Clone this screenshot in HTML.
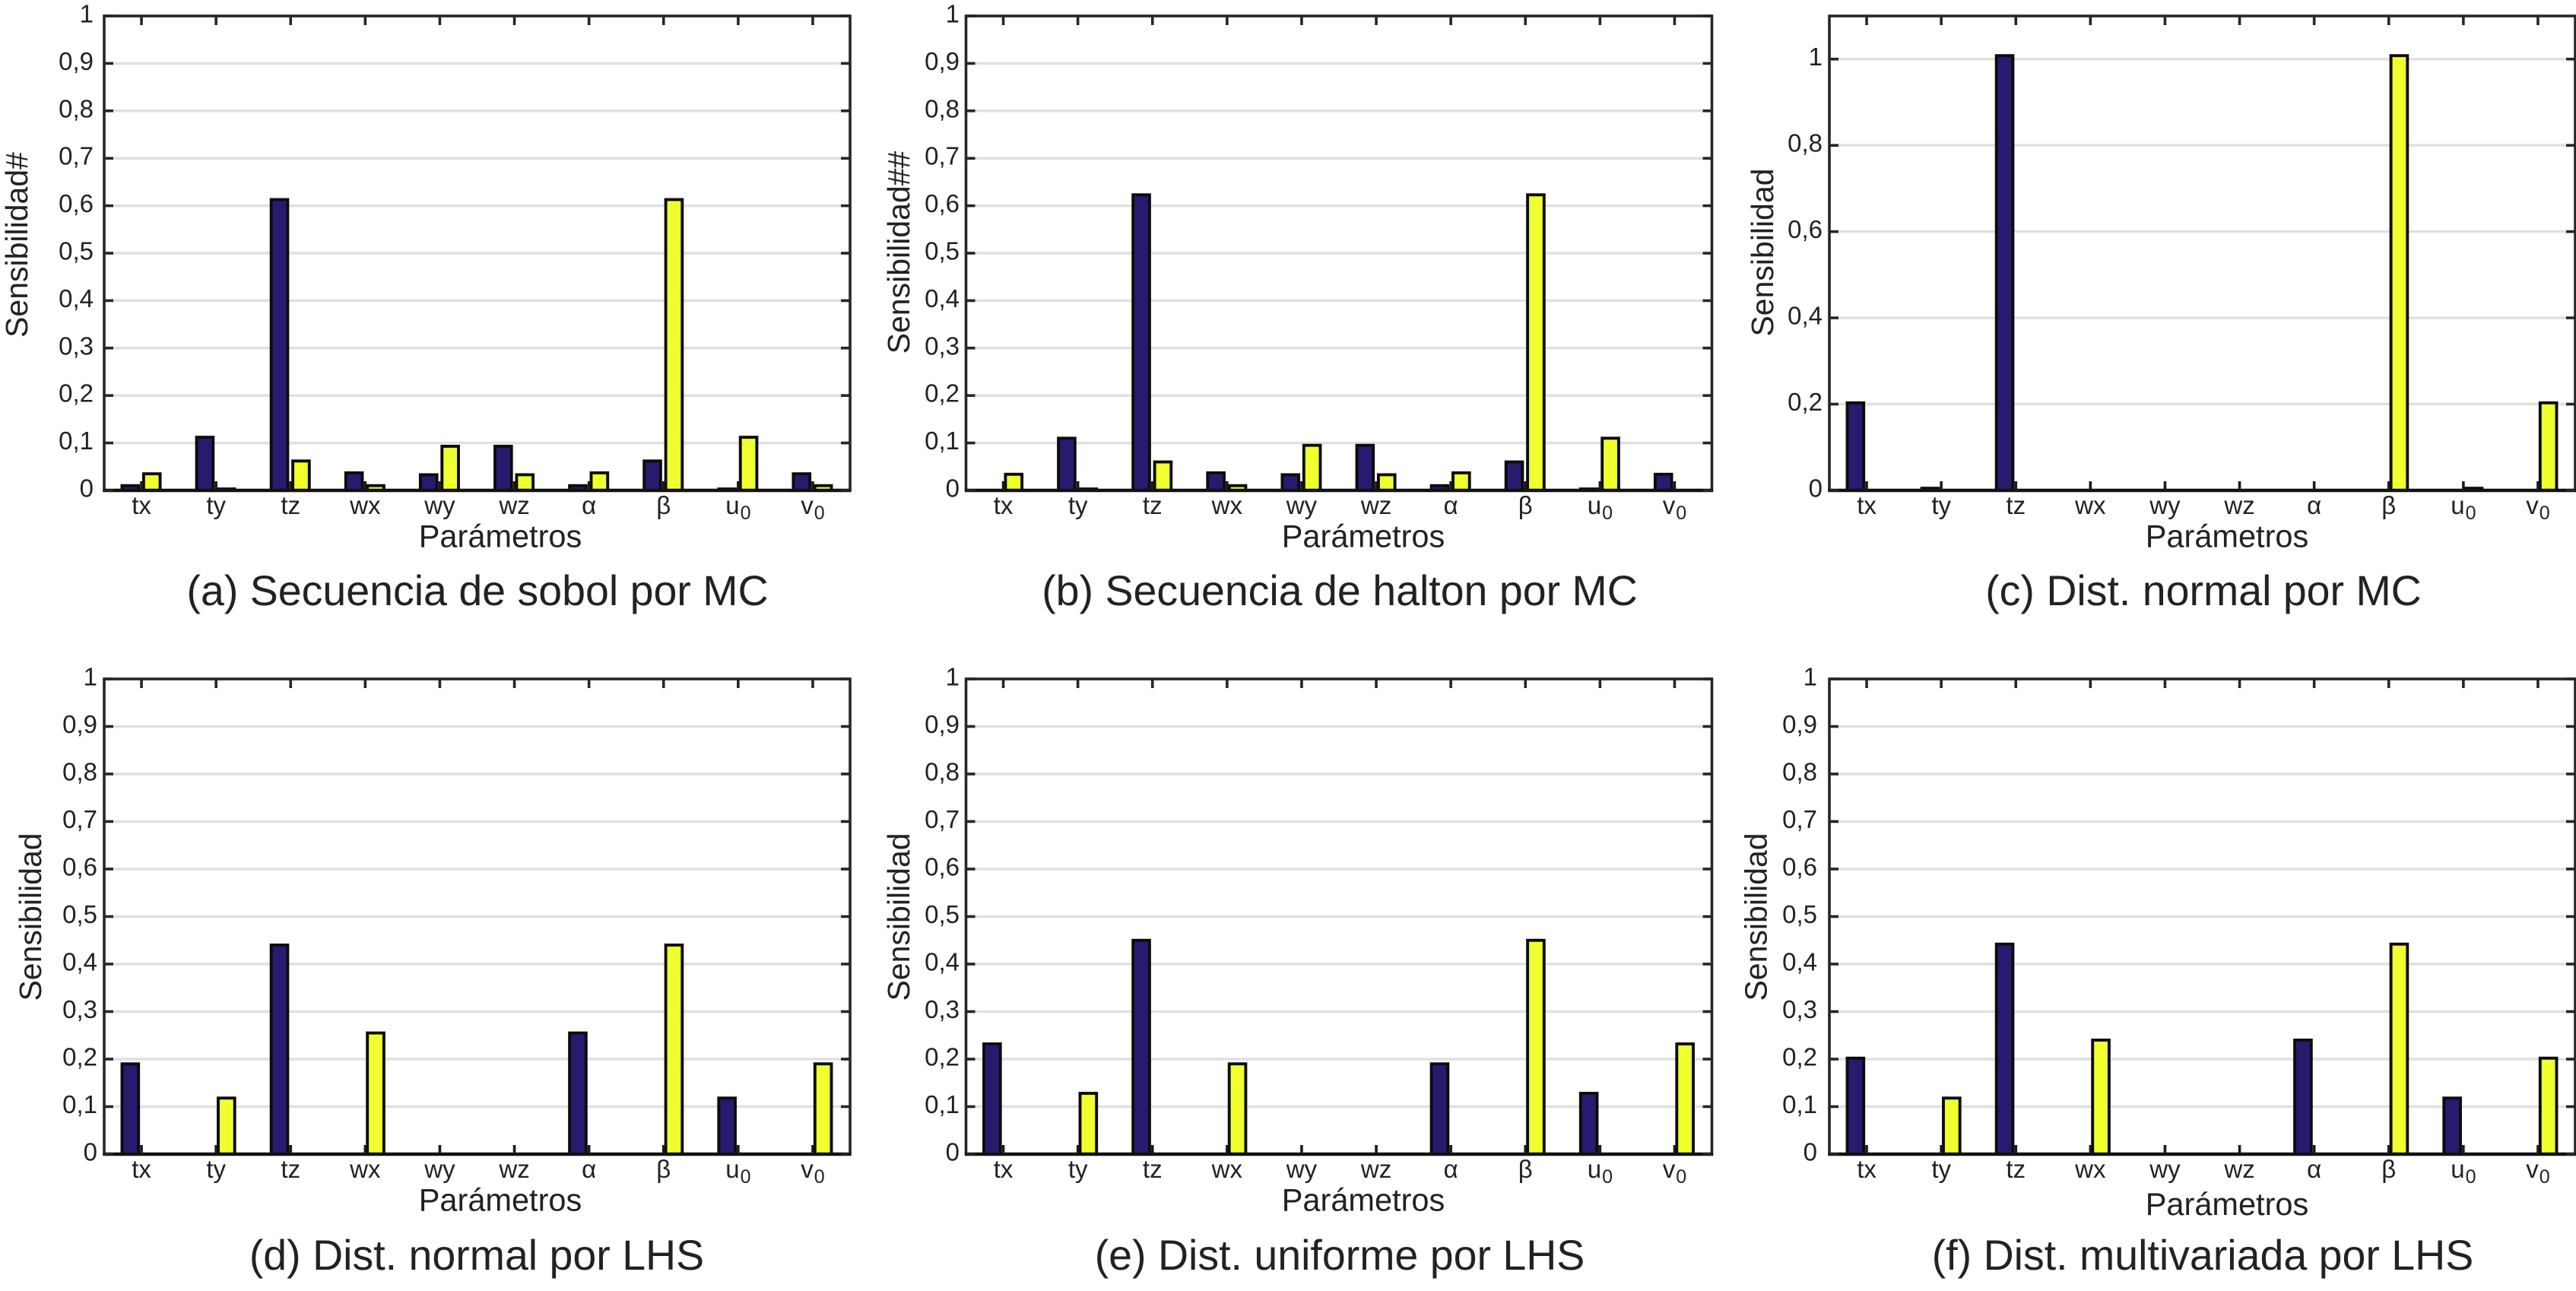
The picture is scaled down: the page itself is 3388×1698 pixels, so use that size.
<!DOCTYPE html>
<html lang="es">
<head>
<meta charset="utf-8">
<title>Sensibilidad por parámetros</title>
<style>
html,body{margin:0;padding:0;background:#fff;width:3388px;height:1698px;overflow:hidden}
svg{display:block;font-family:"Liberation Sans",sans-serif}
text{fill:#222}
</style>
</head>
<body>
<svg id="figure" xmlns="http://www.w3.org/2000/svg" width="3388" height="1698" viewBox="0 0 3388 1698"></svg>
<script>
// ---- Data ----
const categories = ['tx','ty','tz','wx','wy','wz','α','β','u0','v0'];
const fineTicks = [0,0.1,0.2,0.3,0.4,0.5,0.6,0.7,0.8,0.9,1];
const coarseTicks = [0,0.2,0.4,0.6,0.8,1];

const sobolBlue   = [0.01,0.112,0.613,0.037,0.033,0.093,0.01,0.062,0.003,0.035];
const sobolYellow = [0.035,0.003,0.062,0.01,0.093,0.033,0.037,0.613,0.112,0.01];
const haltonBlue   = [0,0.11,0.623,0.037,0.033,0.095,0.01,0.06,0.003,0.034];
const haltonYellow = [0.034,0.003,0.06,0.01,0.095,0.033,0.037,0.623,0.11,0];
const normalMcBlue   = [0.203,0.005,1.008,0,0,0,0,0,0,0];
const normalMcYellow = [0,0,0,0,0,0,0,1.008,0.005,0.203];
const normalLhsBlue   = [0.19,0,0.44,0,0,0,0.255,0,0.118,0];
const normalLhsYellow = [0,0.118,0,0.255,0,0,0,0.44,0,0.19];
const uniformLhsBlue   = [0.232,0,0.45,0,0,0,0.19,0,0.128,0];
const uniformLhsYellow = [0,0.128,0,0.19,0,0,0,0.45,0,0.232];
const multiLhsBlue   = [0.202,0,0.442,0,0,0,0.24,0,0.118,0];
const multiLhsYellow = [0,0.118,0,0.24,0,0,0,0.442,0,0.202];

const captions = [
  '(a) Secuencia de sobol por MC',
  '(b) Secuencia de halton por MC',
  '(c) Dist. normal por MC',
  '(d) Dist. normal por LHS',
  '(e) Dist. uniforme por LHS',
  '(f) Dist. multivariada por LHS'
];
const yTitles = ['Sensibilidad#','Sensibilidad##','Sensibilidad','Sensibilidad','Sensibilidad','Sensibilidad'];
const xTitle = 'Parámetros';
const blueSeries = [sobolBlue,haltonBlue,normalMcBlue,normalLhsBlue,uniformLhsBlue,multiLhsBlue];
const yellowSeries = [sobolYellow,haltonYellow,normalMcYellow,normalLhsYellow,uniformLhsYellow,multiLhsYellow];
const tickSets = [fineTicks,fineTicks,coarseTicks,fineTicks,fineTicks,fineTicks];
const yMaxima = [1,1,1.1,1,1,1];

// ---- Layout ----
const panelLayouts = [
  {left:137,   top:21,  bottom:645,  tickRight:123,  capX:628,  capY:796,  xtY:719.5, xtX:658,  ytX:36,   ytY:322},
  {left:1270.5,top:21,  bottom:645,  tickRight:1262, capX:1762, capY:796,  xtY:719.5, xtX:1793, ytX:1196, ytY:332},
  {left:2406,  top:21,  bottom:645,  tickRight:2397, capX:2898, capY:796,  xtY:719.5, xtX:2929, ytX:2332, ytY:332},
  {left:137,   top:893, bottom:1518, tickRight:128,  capX:627,  capY:1670, xtY:1592.5,xtX:658,  ytX:54,   ytY:1206},
  {left:1270.5,top:893, bottom:1518, tickRight:1262, capX:1762, capY:1670, xtY:1592.5,xtX:1793, ytX:1196, ytY:1206},
  {left:2406,  top:893, bottom:1518, tickRight:2390, capX:2897, capY:1670, xtY:1598,  xtX:2929, ytX:2323.5,ytY:1206}
];
const plotWidth = 981;
const barOuter = 25.6;
const barStroke = 3.9;
const tickLen = 12;
const BLUE = '#291a70';
const YELLOW = '#f0ff2e';
const AXIS = '#262626';
const BAR_EDGE = '#0c0c0c';
const GRID = '#e0e0e0';

const NS = 'http://www.w3.org/2000/svg';
const figure = document.getElementById('figure');

function create(tag, parent){
  const el = document.createElementNS(NS, tag);
  parent.appendChild(el);
  return el;
}
function setLine(el, x1, y1, x2, y2, stroke, width){
  el.setAttribute('x1', x1);
  el.setAttribute('y1', y1);
  el.setAttribute('x2', x2);
  el.setAttribute('y2', y2);
  el.setAttribute('stroke', stroke);
  el.setAttribute('stroke-width', width);
}
function slug(s){
  return s.replace('α','alpha').replace('β','beta');
}

captions.forEach(function(caption, p){
  const L = panelLayouts[p];
  const ticks = tickSets[p];
  const yMax = yMaxima[p];
  const xAxis = function(i){ return L.left + plotWidth * (i + 0.5) / categories.length; };
  const yAxis = function(v){ return L.bottom - (L.bottom - L.top) * v / yMax; };
  const right = L.left + plotWidth;
  const letter = 'abcdef'[p];

  const g = create('g', figure);
  
  

  // grid
  ticks.forEach(function(t){
    if (t === 0) return;
    const grid = create('line', g);
    
    
    setLine(grid, L.left, yAxis(t), right, yAxis(t), GRID, 3.5);
  });

  // bars
  categories.forEach(function(cat, i){
    const tx = xAxis(i);
    const w = barOuter - barStroke;
    const vb = blueSeries[p][i];
    const blue = create('rect', g);
    
    
    blue.setAttribute('x', tx - 27.5 + barStroke / 2);
    blue.setAttribute('y', yAxis(vb));
    blue.setAttribute('width', w);
    blue.setAttribute('height', L.bottom - yAxis(vb));
    blue.setAttribute('fill', BLUE);
    blue.setAttribute('stroke', BAR_EDGE);
    blue.setAttribute('stroke-width', barStroke);

    const vy = yellowSeries[p][i];
    const yellow = create('rect', g);
    
    
    yellow.setAttribute('x', tx + 0.9 + barStroke / 2);
    yellow.setAttribute('y', yAxis(vy));
    yellow.setAttribute('width', w);
    yellow.setAttribute('height', L.bottom - yAxis(vy));
    yellow.setAttribute('fill', YELLOW);
    yellow.setAttribute('stroke', BAR_EDGE);
    yellow.setAttribute('stroke-width', barStroke);
  });

  // axes box
  const frame = create('rect', g);
  
  
  frame.setAttribute('x', L.left);
  frame.setAttribute('y', L.top);
  frame.setAttribute('width', plotWidth);
  frame.setAttribute('height', L.bottom - L.top);
  frame.setAttribute('fill', 'none');
  frame.setAttribute('stroke', AXIS);
  frame.setAttribute('stroke-width', 3.6);

  const base = create('line', g);
  
  
  setLine(base, L.left - 1.5, L.bottom, right + 1.5, L.bottom, '#111', 4.4);

  // y ticks
  ticks.forEach(function(t){
    const y = yAxis(t);
    const tag = String(t).replace('.','-');
    const leftTick = create('line', g);
    
    
    setLine(leftTick, L.left, y, L.left + tickLen, y, AXIS, 3.6);
    const rightTick = create('line', g);
    
    
    setLine(rightTick, right - tickLen, y, right, y, AXIS, 3.6);
    const label = create('text', g);
    
    
    label.setAttribute('x', L.tickRight);
    label.setAttribute('y', y + 8.5);
    label.setAttribute('text-anchor', 'end');
    label.setAttribute('font-size', '33');
    label.textContent = String(t).replace('.', ',');
  });

  // x ticks + labels
  categories.forEach(function(cat, i){
    const tx = xAxis(i);
    const bottomTick = create('line', g);
    
    
    setLine(bottomTick, tx, L.bottom - tickLen, tx, L.bottom, '#1a1a1a', 3.6);
    const topTick = create('line', g);
    
    
    setLine(topTick, tx, L.top, tx, L.top + tickLen, AXIS, 3.6);

    const label = create('text', g);
    
    
    label.setAttribute('x', tx);
    label.setAttribute('y', L.bottom + 31);
    label.setAttribute('text-anchor', 'middle');
    label.setAttribute('font-size', '33');
    if (cat.endsWith('0')) {
      const main = create('tspan', label);
      main.textContent = cat.charAt(0);
      const sub = create('tspan', label);
      sub.setAttribute('font-size', '25');
      sub.setAttribute('dy', '7');
      sub.setAttribute('dx', '1');
      sub.textContent = '0';
    } else {
      label.textContent = cat;
    }
  });

  // titles
  const xLabel = create('text', g);
  
  
  xLabel.setAttribute('x', L.xtX);
  xLabel.setAttribute('y', L.xtY);
  xLabel.setAttribute('text-anchor', 'middle');
  xLabel.setAttribute('font-size', '41.5');
  xLabel.textContent = xTitle;

  const yLabel = create('text', g);
  
  
  yLabel.setAttribute('transform', 'translate(' + L.ytX + ' ' + L.ytY + ') rotate(-90)');
  yLabel.setAttribute('text-anchor', 'middle');
  yLabel.setAttribute('font-size', '41');
  yLabel.textContent = yTitles[p];

  const cap = create('text', g);
  
  
  cap.setAttribute('x', L.capX);
  cap.setAttribute('y', L.capY);
  cap.setAttribute('text-anchor', 'middle');
  cap.setAttribute('font-size', '55.5');
  cap.textContent = caption;
});
</script>
</body>
</html>
